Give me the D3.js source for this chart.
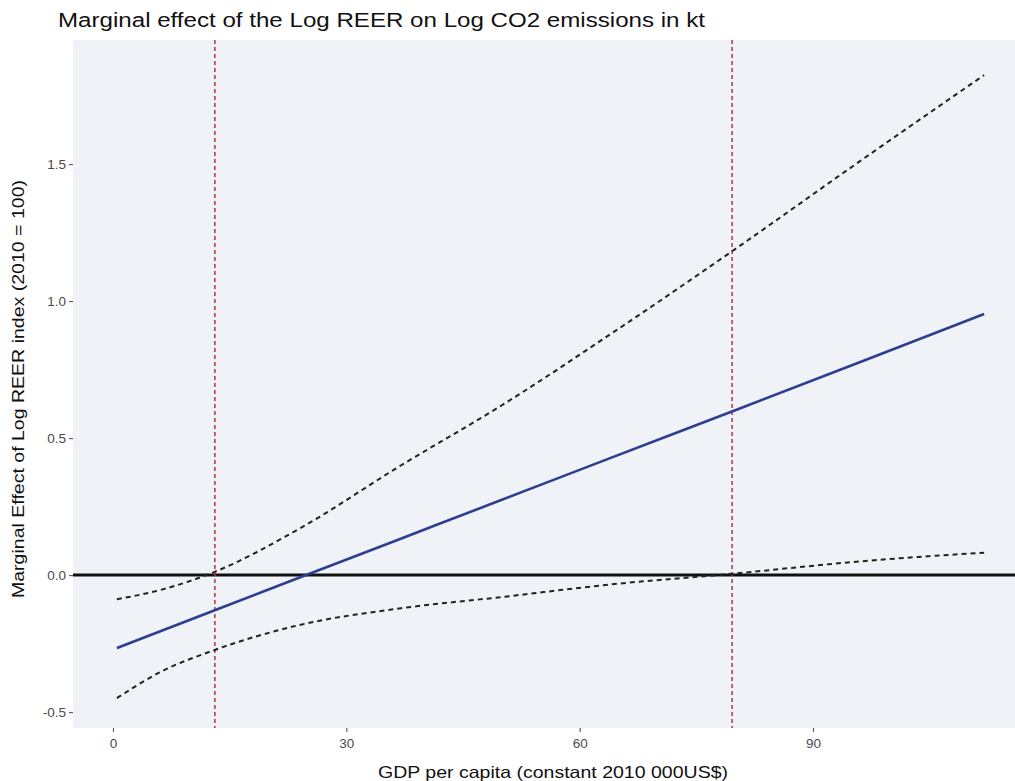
<!DOCTYPE html>
<html>
<head>
<meta charset="utf-8">
<script src="https://cdn.jsdelivr.net/npm/d3@7"></script>
<style>
  html, body { margin: 0; padding: 0; background: #ffffff; }
  svg { display: block; font-family: "Liberation Sans", Arial, sans-serif; }
</style>
</head>
<body>
<svg id="chart" width="1015" height="781"></svg>
<script>
// ---- data ----
const gdp      = [0.5, 6, 13, 24, 37, 50, 64, 80, 96, 112];
const effect   = [-0.266, -0.206, -0.129, -0.009, 0.133, 0.275, 0.428, 0.602, 0.777, 0.953];
const upperCI  = [-0.088, -0.055, 0.011, 0.170, 0.400, 0.620, 0.880, 1.190, 1.510, 1.825];
const lowerCI  = [-0.449, -0.355, -0.274, -0.182, -0.121, -0.080, -0.034, 0.006, 0.050, 0.082];
const thresholds = [13.1, 79.6];
const xTicks = [0, 30, 60, 90];
const yTicks = [-0.5, 0.0, 0.5, 1.0, 1.5];
const yTickLabels = ["-0.5", "0.0", "0.5", "1.0", "1.5"];
const xDomain = [-5.14, 115.97];
const yDomain = [-0.558, 1.953];

const title = "Marginal effect of the Log REER on Log CO2 emissions in kt";
const xLabel = "GDP per capita (constant 2010 000US$)";
const yLabel = "Marginal Effect of Log REER index (2010 = 100)";

// ---- layout ----
const W = 1015, H = 781;
const m = { left: 73, right: 0, top: 40, bottom: 53 };
const pw = W - m.left - m.right, ph = H - m.top - m.bottom;

const svg = d3.select("#chart");
const x = d3.scaleLinear().domain(xDomain).range([m.left, m.left + pw]);
const y = d3.scaleLinear().domain(yDomain).range([m.top + ph, m.top]);

// panel background
svg.append("rect")
  .attr("x", m.left).attr("y", m.top).attr("width", pw).attr("height", ph)
  .attr("fill", "#eff2f7");

svg.append("clipPath").attr("id", "clip")
  .append("rect").attr("x", m.left).attr("y", m.top).attr("width", pw).attr("height", ph);

const g = svg.append("g").attr("clip-path", "url(#clip)");

// zero line
g.append("line")
  .attr("x1", m.left).attr("x2", m.left + pw)
  .attr("y1", y(0)).attr("y2", y(0))
  .attr("stroke", "#111").attr("stroke-width", 3);

// threshold lines
g.selectAll("line.thr").data(thresholds).join("line")
  .attr("class", "thr")
  .attr("x1", d => x(d)).attr("x2", d => x(d))
  .attr("y1", m.top).attr("y2", m.top + ph)
  .attr("stroke", "#b8323c").attr("stroke-width", 1.5)
  .attr("stroke-dasharray", "4,3");

const pts = s => gdp.map((v, i) => [v, s[i]]);
const line = d3.line().x(d => x(d[0])).y(d => y(d[1])).curve(d3.curveMonotoneX);

// CI dashed
[upperCI, lowerCI].forEach(s => {
  g.append("path").datum(pts(s))
    .attr("d", line).attr("fill", "none")
    .attr("stroke", "#222").attr("stroke-width", 2)
    .attr("stroke-dasharray", "5,4");
});

// effect line
g.append("path").datum(pts(effect))
  .attr("d", line).attr("fill", "none")
  .attr("stroke", "#2f3d8f").attr("stroke-width", 2.6);

// axes
const xAxis = d3.axisBottom(x).tickValues(xTicks).tickSize(4).tickPadding(6).tickFormat(d3.format("d"));
const yAxis = d3.axisLeft(y).tickValues(yTicks).tickSize(4).tickPadding(3).tickFormat((d, i) => yTickLabels[i]);

const gx = svg.append("g").attr("transform", `translate(0,${m.top + ph})`).call(xAxis);
const gy = svg.append("g").attr("transform", `translate(${m.left},0)`).call(yAxis);
[gx, gy].forEach(a => {
  a.select(".domain").remove();
  a.selectAll(".tick line").attr("stroke", "#555").attr("stroke-width", 1.1);
  a.selectAll(".tick text").attr("fill", "#4a4a4a").style("font-size", "13.5px");
});

// title & labels
svg.append("text").attr("x", 58).attr("y", 27)
  .attr("fill", "#111").style("font-size", "20px")
  .attr("textLength", 647).attr("lengthAdjust", "spacingAndGlyphs").text(title);

svg.append("text").attr("x", 553).attr("y", 778).attr("text-anchor", "middle")
  .attr("fill", "#111").style("font-size", "16.5px")
  .attr("textLength", 350).attr("lengthAdjust", "spacingAndGlyphs").text(xLabel);

svg.append("text").attr("transform", `translate(24,389) rotate(-90)`)
  .attr("text-anchor", "middle").attr("fill", "#111").style("font-size", "16.5px")
  .attr("textLength", 418).attr("lengthAdjust", "spacingAndGlyphs").text(yLabel);
</script>
</body>
</html>
